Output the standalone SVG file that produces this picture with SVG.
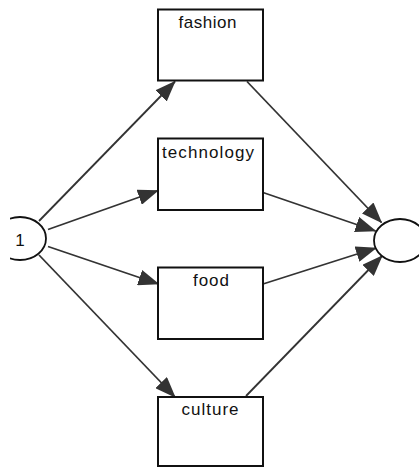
<svg xmlns="http://www.w3.org/2000/svg" width="419" height="468" viewBox="0 0 419 468">
<style>
.box{fill:#fff;stroke:#111;stroke-width:2}
.circ{fill:#fff;stroke:#111;stroke-width:1.8}
.lbl{font-family:"Liberation Sans",Arial,sans-serif;font-size:17px;fill:#111;text-anchor:middle}
.edge{stroke:#333;stroke-width:1.8;fill:none;marker-end:url(#arr)}
</style>
<defs>
<marker id="arr" markerUnits="userSpaceOnUse" viewBox="0 0 21 16" markerWidth="21" markerHeight="16" refX="20" refY="8" orient="auto">
<path d="M0,0 L21,8 L0,16 z" fill="#333"/>
</marker>
<clipPath id="leftclip"><rect x="10" y="0" width="409" height="468"/></clipPath>
</defs>
<rect width="419" height="468" fill="#fff"/>
<g id="connectors">
<line class="edge" x1="39" y1="221" x2="175" y2="81.5"/>
<line class="edge" x1="48" y1="229.5" x2="158" y2="190.5"/>
<line class="edge" x1="48" y1="246.5" x2="158.5" y2="284"/>
<line class="edge" x1="39" y1="255" x2="175" y2="397"/>
<line class="edge" x1="247" y1="81.5" x2="381.5" y2="222.5"/>
<line class="edge" x1="263" y1="192.5" x2="375.5" y2="231"/>
<line class="edge" x1="263" y1="284" x2="376" y2="248"/>
<line class="edge" x1="246" y1="396" x2="382" y2="256"/>
</g>
<g id="node-start">
<ellipse class="circ" cx="20" cy="238.5" rx="26" ry="21.5" clip-path="url(#leftclip)"/>
<text class="lbl" x="20" y="245.5">1</text>
</g>
<g id="node-end">
<ellipse class="circ" cx="400" cy="240.5" rx="26" ry="21.5"/>
</g>
<g id="node-fashion">
<rect class="box" x="158" y="9.5" width="105" height="71"/>
<text class="lbl" x="207.5" y="27.5" textLength="58" lengthAdjust="spacing">fashion</text>
</g>
<g id="node-technology">
<rect class="box" x="158" y="138.5" width="105" height="71.5"/>
<text class="lbl" x="208" y="158" textLength="92" lengthAdjust="spacing">technology</text>
</g>
<g id="node-food">
<rect class="box" x="158" y="267.5" width="105" height="71.5"/>
<text class="lbl" x="211" y="286" textLength="36" lengthAdjust="spacing">food</text>
</g>
<g id="node-culture">
<rect class="box" x="158" y="397" width="105" height="69"/>
<text class="lbl" x="210" y="415" textLength="57" lengthAdjust="spacing">culture</text>
</g>
</svg>
